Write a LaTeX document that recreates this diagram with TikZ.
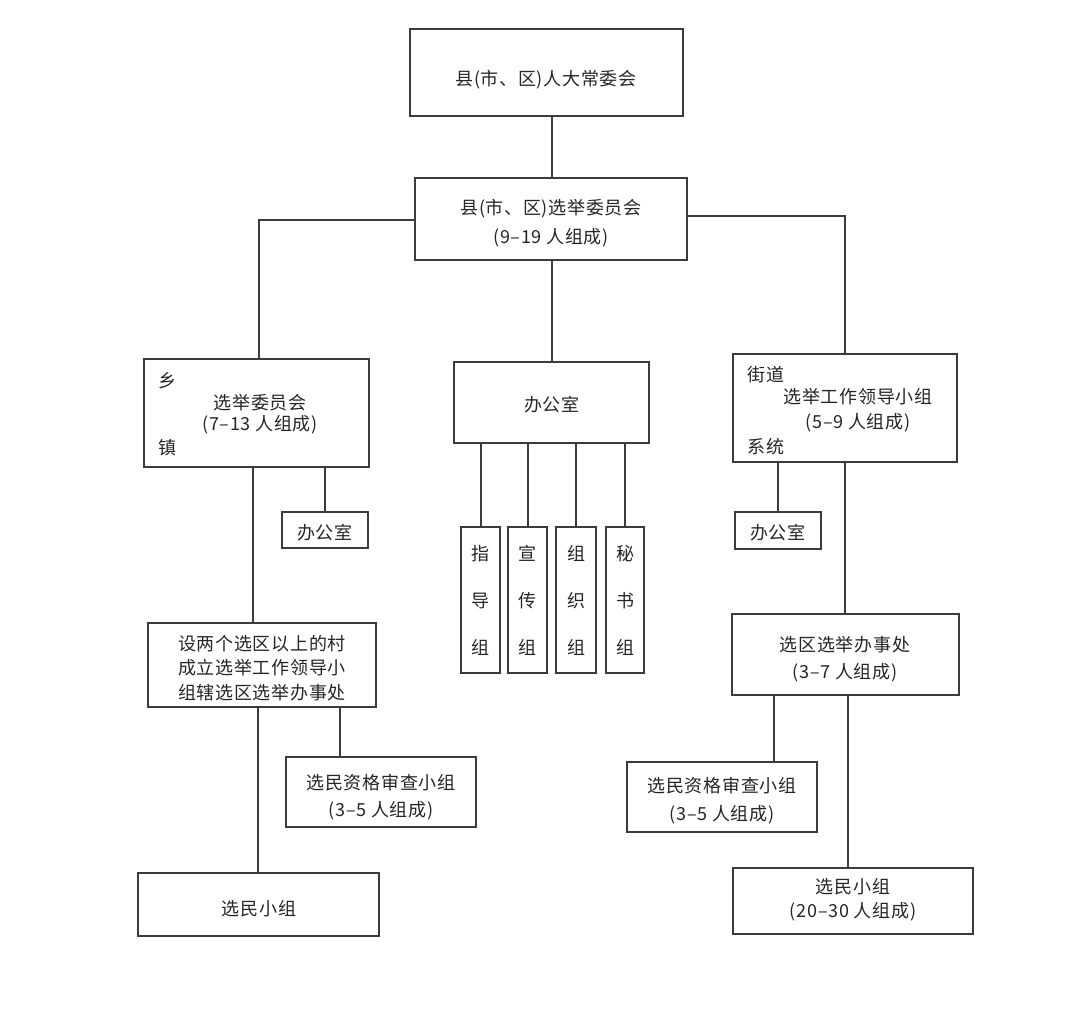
\documentclass[tikz,border=0pt]{standalone}
\usepackage{fontspec}
\newfontfamily\cjk[LetterSpace=4]{Noto Sans CJK SC}
\usetikzlibrary{fit}
\definecolor{ln}{HTML}{3C3C3C}
\definecolor{tx}{HTML}{262626}
\begin{document}
\begin{tikzpicture}[x=0.5pt,y=-0.5pt,
  box/.style={draw=ln, line width=1pt, inner sep=0pt, fit={#1}},
  lbl/.style={font=\cjk\fontsize{9}{13}\selectfont, text=tx, align=center, inner sep=0pt},
  vt/.style={font=\cjk\fontsize{9}{23.5}\selectfont},
  wire/.style={draw=ln, line width=1pt}]
\useasboundingbox[fill=white] (0,0) rectangle (1080,1024);

% boxes
\node[box={(410,29) (683,116)}] (rd) {};
\node[lbl] (rdt) at (546,80) {县(市、区)人大常委会};
\node[box={(415,178) (687,260)}] (sel) {};
\node[lbl, font=\cjk\fontsize{9}{14.5}\selectfont] (selt) at (551,223) {县(市、区)选举委员会\\(9–19 人组成)};
\node[box={(454,362) (649,443)}] (off) {};
\node[lbl] (offt) at (552,405) {办公室};
\node[box={(461,527) (500,673)}] (g1) {};
\node[box={(508,527) (547,673)}] (g2) {};
\node[box={(556,527) (596,673)}] (g3) {};
\node[box={(606,527) (644,673)}] (g4) {};
\node[lbl, vt] (g1t) at (g1) {指\\导\\组};
\node[lbl, vt] (g2t) at (g2) {宣\\传\\组};
\node[lbl, vt] (g3t) at (g3) {组\\织\\组};
\node[lbl, vt] (g4t) at (g4) {秘\\书\\组};

\node[box={(144,359) (369,467)}] (xz) {};
\node[lbl, font=\cjk\fontsize{9}{10.5}\selectfont] (xzt) at (260,414) {选举委员会\\(7–13 人组成)};
\node[lbl] (xiang) at (167,381) {乡};
\node[lbl] (zhen) at (167,448) {镇};

\node[box={(733,354) (957,462)}] (jd) {};
\node[lbl, font=\cjk\fontsize{9}{12.5}\selectfont] (jdt) at (858,410) {选举工作领导小组\\(5–9 人组成)};
\node[lbl, anchor=west] (jie) at (747,375) {街道};
\node[lbl, anchor=west] (xt) at (747,447) {系统};

\node[box={(282,512) (368,548)}] (lo) {};
\node[lbl] (lot) at (325,533) {办公室};
\node[box={(735,512) (821,549)}] (ro) {};
\node[lbl] (rot) at (778,533) {办公室};

\node[box={(148,623) (376,707)}] (cun) {};
\node[lbl, font=\cjk\fontsize{9}{12.25}\selectfont] (cunt) at (262,668) {设两个选区以上的村\\成立选举工作领导小\\组辖选区选举办事处};
\node[box={(286,757) (476,827)}] (rl) {};
\node[lbl, font=\cjk\fontsize{9}{13.5}\selectfont] (rlt) at (381,797) {选民资格审查小组\\(3–5 人组成)};
\node[box={(138,873) (379,936)}] (vl) {};
\node[lbl] (vlt) at (259,909) {选民小组};

\node[box={(732,614) (959,695)}] (xq) {};
\node[lbl, font=\cjk\fontsize{9}{13.5}\selectfont] (xqt) at (845,659) {选区选举办事处\\(3–7 人组成)};
\node[box={(627,762) (817,832)}] (rr) {};
\node[lbl, font=\cjk\fontsize{9}{14}\selectfont] (rrt) at (722,801) {选民资格审查小组\\(3–5 人组成)};
\node[box={(733,868) (973,934)}] (vr) {};
\node[lbl, font=\cjk\fontsize{9}{12}\selectfont] (vrt) at (853,900) {选民小组\\(20–30 人组成)};

% connectors
\draw[wire] (rd.south -| 552,0) -- (sel.north -| 552,0);
\draw[wire] (sel.west |- 0,220) -| (xz.north -| 259,0);
\draw[wire] (sel.east |- 0,216) -| (jd.north -| 845,0);
\draw[wire] (sel.south -| 552,0) -- (off.north -| 552,0);
\foreach \g in {g1,g2,g3,g4} \draw[wire] (off.south -| \g.north) -- (\g.north);
\draw[wire] (xz.south -| 253,0) -- (cun.north -| 253,0);
\draw[wire] (xz.south -| lo.north) -- (lo.north);
\draw[wire] (cun.south -| 258,0) -- (vl.north -| 258,0);
\draw[wire] (cun.south -| 340,0) -- (rl.north -| 340,0);
\draw[wire] (jd.south -| ro.north) -- (ro.north);
\draw[wire] (jd.south -| 845,0) -- (xq.north -| 845,0);
\draw[wire] (xq.south -| 774,0) -- (rr.north -| 774,0);
\draw[wire] (xq.south -| 848,0) -- (vr.north -| 848,0);
\end{tikzpicture}
\end{document}
